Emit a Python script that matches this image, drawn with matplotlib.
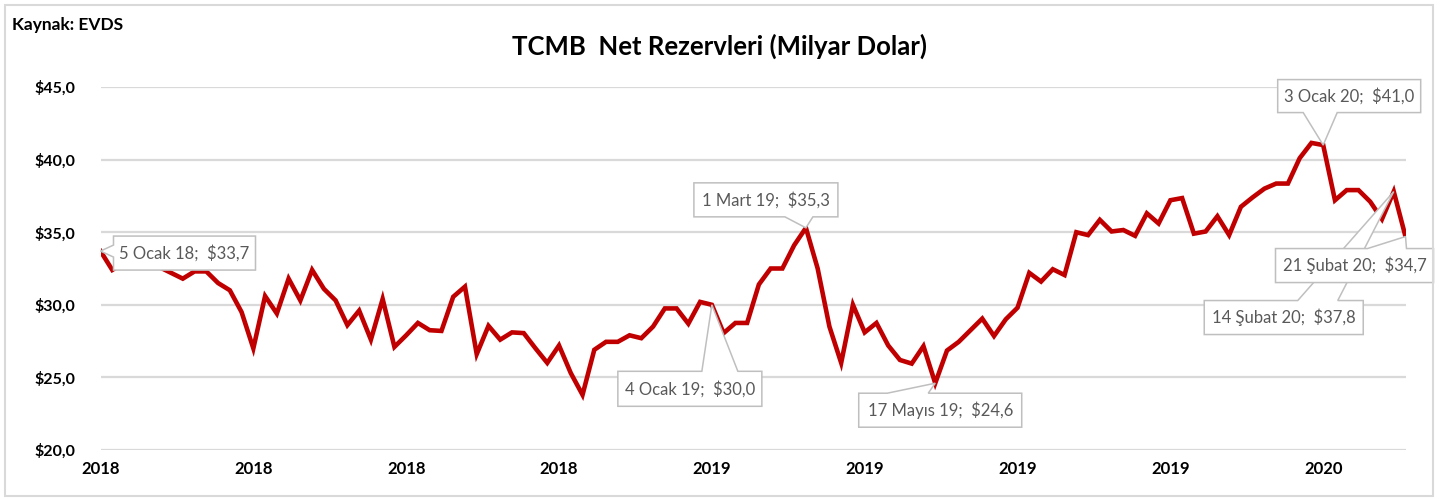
import numpy as np
import pandas as pd
import matplotlib
matplotlib.use("Agg")
import matplotlib.pyplot as plt
from matplotlib.patches import Polygon, Rectangle
from matplotlib.transforms import IdentityTransform

# ---------------- data ----------------
start_date = "2018-01-05"
values = [
    33.7, 32.4, 32.9, 33.2, 33.0, 32.6, 32.2, 31.8, 32.3, 32.3,
    31.5, 31.0, 29.5, 27.0, 30.6, 29.4, 31.8, 30.3, 32.4, 31.1,
    30.3, 28.6, 29.6, 27.6, 30.4, 27.1, 27.9, 28.75, 28.25, 28.2,
    30.55, 31.25, 26.6, 28.55, 27.6, 28.1, 28.05, 27.0, 26.0, 27.2,
    25.3, 23.8, 26.9, 27.45, 27.45, 27.9, 27.7, 28.5, 29.75, 29.75,
    28.7, 30.2, 30.0, 28.05, 28.75, 28.75, 31.4, 32.5, 32.5, 34.1,
    35.3, 32.5, 28.5, 26.0, 30.0, 28.1, 28.75, 27.2, 26.2, 25.95,
    27.15, 24.6, 26.85, 27.45, 28.25, 29.05, 27.85, 29.0, 29.8, 32.2,
    31.6, 32.45, 32.05, 35.0, 34.8, 35.85, 35.05, 35.15, 34.75, 36.3,
    35.6, 37.2, 37.35, 34.9, 35.05, 36.1, 34.8, 36.75, 37.4, 38.0,
    38.35, 38.35, 40.1, 41.15, 41.0, 37.2, 37.9, 37.9, 37.1, 35.9,
    37.8, 34.7,
]
dates = pd.date_range(start_date, periods=len(values), freq="7D")
y_ticks = [20, 25, 30, 35, 40, 45]
tick_every = 13
title = "TCMB  Net Rezervleri (Milyar Dolar)"
source = "Kaynak: EVDS"
tr_months = ["Ocak", "Şubat", "Mart", "Nisan", "Mayıs", "Haziran", "Temmuz",
             "Ağustos", "Eylül", "Ekim", "Kasım", "Aralık"]
callout_dates = ["2018-01-05", "2019-03-01", "2019-01-04", "2019-05-17",
                 "2020-01-03", "2020-02-14", "2020-02-21"]

# ---------------- style ----------------
FONT = "Lato"
RED = "#C00000"
GRID = "#d9d9d9"
BOX_EDGE = "#bfbfbf"
TXT = "#595959"

W, H = 1451, 499
fig = plt.figure(figsize=(W / 100, H / 100), dpi=100)
fig.patch.set_facecolor("white")

# axes placement (pixels)
ax_left, ax_right = 100.5, 1405.5
ax_top, ax_bottom = 87, 450
ax = fig.add_axes([ax_left / W, (H - ax_bottom) / H,
                   (ax_right - ax_left) / W, (ax_bottom - ax_top) / H])

x = np.arange(len(values))
ax.plot(x, values, color=RED, lw=3.3, solid_joinstyle="miter", zorder=3)
ax.set_xlim(0, len(values) - 1)
ax.set_ylim(min(y_ticks), max(y_ticks))
ax.set_yticks(y_ticks)
ax.set_yticklabels([f"${v:.1f}".replace(".", ",") for v in y_ticks],
                   fontfamily=FONT, fontweight="bold", fontsize=11.5, color="black")
ax.set_xticks(x[::tick_every])
ax.set_xticklabels([str(d.year) for d in dates[::tick_every]],
                   fontfamily=FONT, fontweight="bold", fontsize=12, color="black")
ax.tick_params(axis="both", length=0)
ax.tick_params(axis="y", pad=18)
ax.tick_params(axis="x", pad=8)
for s in ax.spines.values():
    s.set_visible(False)
ax.yaxis.grid(True, color=GRID, lw=1.6, zorder=0)
ax.set_axisbelow(True)

# outer frame
fig.patches.append(Rectangle((5, 3), 1428, 491, transform=IdentityTransform(),
                             fill=False, edgecolor=GRID, lw=1.5))

fig.text(719 / W, 1 - 46 / H, title, ha="center", va="center",
         fontfamily=FONT, fontweight="bold", fontsize=18.5, color="black")
fig.text(12 / W, 1 - 25 / H, source, ha="left", va="center",
         fontfamily=FONT, fontweight="bold", fontsize=12.5, color="black")

# ---------------- callouts ----------------
# (dx, dy) box-centre offset from point in px (y up), w, h, side, wedge base offsets
layout = {
    "2018-01-05": (84, -2, 142, 34, "left", (8, -4)),
    "2019-03-01": (-40, 28, 144, 34, "bottom", (19, 47)),
    "2019-01-04": (-22, -84, 144, 35, "top", (12, 48)),
    "2019-05-17": (5, -27, 163, 34, "top", (-53, -12)),
    "2020-01-03": (26, 49, 143, 33, "bottom", (-46, -12)),
    "2020-02-14": (-110, -126, 159, 34, "top", (14, 54)),
    "2020-02-21": (-51, -29, 158, 34, "top", (13, 52)),
}

fig.canvas.draw()


def callout(idx, dx, dy, w, h, side, base):
    d = dates[idx]
    v = values[idx]
    label = f"{d.day} {tr_months[d.month - 1]} {d.year % 100:02d};  ${v:.1f}".replace(".", ",")
    px, py = ax.transData.transform((x[idx], v))
    cx, cy = px + dx, py + dy
    l, r, b, t = cx - w / 2, cx + w / 2, cy - h / 2, cy + h / 2
    b1, b2 = base
    if side == "top":
        verts = [(l, b), (r, b), (r, t), (cx + max(b1, b2), t), (px, py),
                 (cx + min(b1, b2), t), (l, t)]
    elif side == "bottom":
        verts = [(l, t), (r, t), (r, b), (cx + max(b1, b2), b), (px, py),
                 (cx + min(b1, b2), b), (l, b)]
    else:  # left
        verts = [(r, t), (r, b), (l, b), (l, cy + min(b1, b2)), (px, py),
                 (l, cy + max(b1, b2)), (l, t)]
    poly = Polygon(verts, closed=True, transform=IdentityTransform(),
                   facecolor="white", edgecolor=BOX_EDGE, lw=1.1, zorder=5,
                   clip_on=False, joinstyle="miter")
    ax.add_patch(poly)
    ax.text(cx, cy, label, transform=IdentityTransform(), ha="center", va="center",
            fontfamily=FONT, fontsize=12, color=TXT, zorder=6, clip_on=False)


for cd in callout_dates:
    idx = int(np.where(dates == pd.Timestamp(cd))[0][0])
    callout(idx, *layout[cd])

fig.savefig("out.png", dpi=100)
